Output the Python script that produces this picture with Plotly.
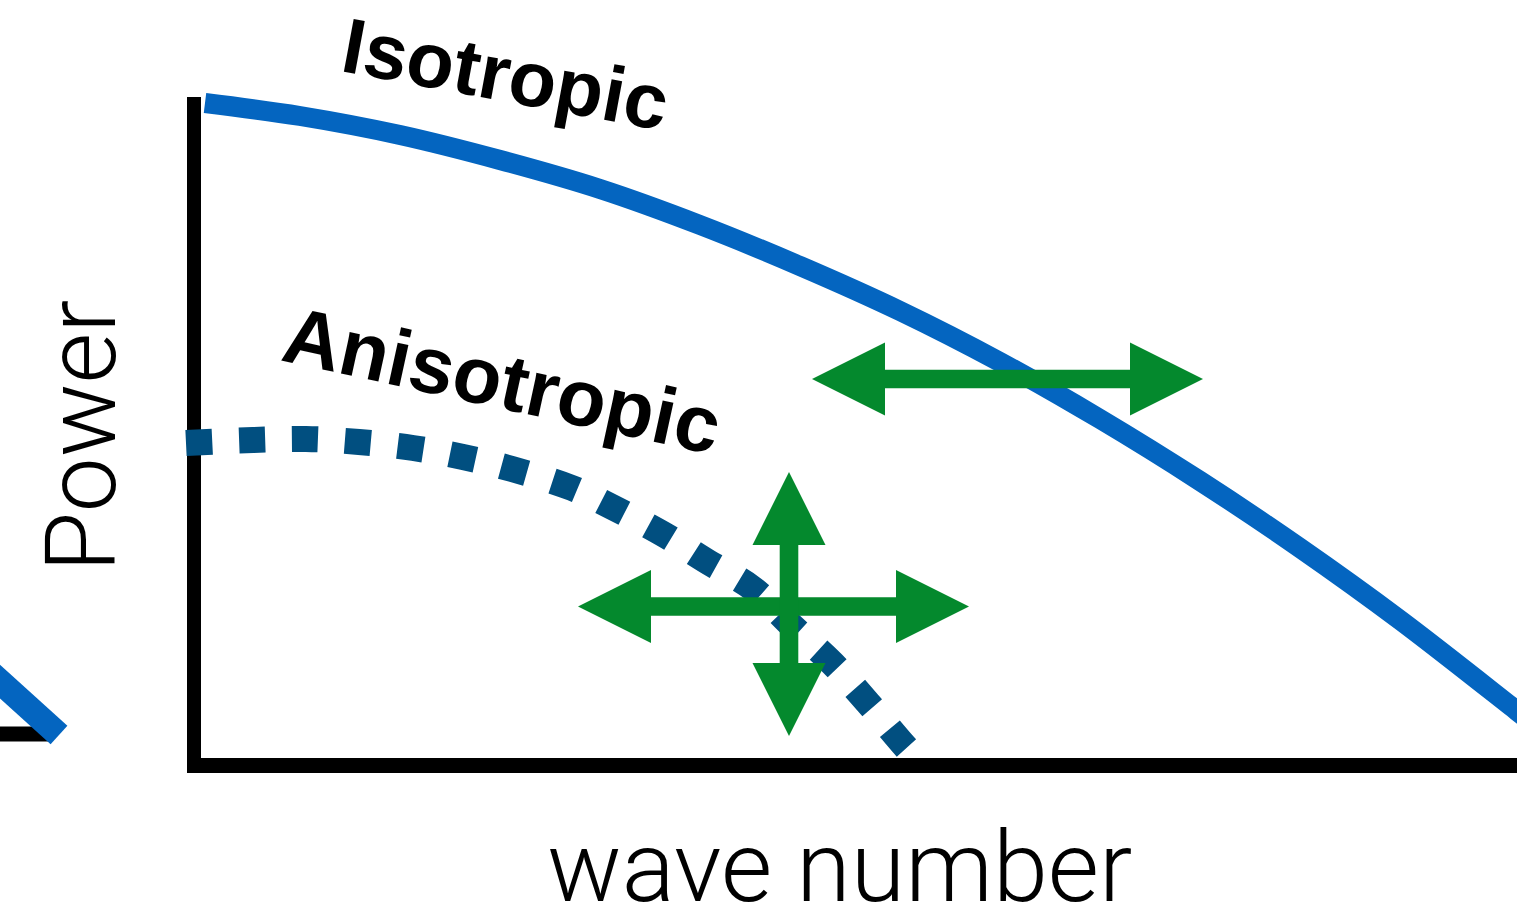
import plotly.graph_objects as go

# Coordinates: x = wave number, y = power, both with the origin at the axis corner.

# Isotropic spectrum (solid curve)
iso_k = [11, 106, 206, 306, 406, 506, 606, 706, 806, 906, 1006, 1106, 1206, 1323, 1346]
iso_p = [663, 650, 631, 606, 577, 541, 500, 455, 404, 347, 285, 218, 146, 55, 37]

# Anisotropic spectrum (dotted curve)
ani_k = [-8, 59, 112, 165, 219, 269, 318, 378, 422, 469, 514, 558, 599, 638, 674, 708, 717]
ani_p = [323, 326, 327, 324, 318, 309, 297, 278, 257, 232, 204, 178, 139, 103, 63, 23, 13]

# Axis lines
yaxis_k = [0, 0]
yaxis_p = [-7, 669]
xaxis_k = [-7, 1345]
xaxis_p = [0.5, 0.5]

# Edge of the neighbouring panel on the left
edge_bar_k = [-210, -144]
edge_bar_p = [32, 32]
edge_curve_k = [-210, -135]
edge_curve_p = [99, 31]

# Double-headed arrows: centre k, centre p, half length, orientation
arrow_ck = [813.5, 579.5, 595]
arrow_cp = [387, 159.5, 162]
arrow_half = [195.5, 195.5, 132]
arrow_dir = ["h", "h", "v"]
HEAD_LEN = 73
HEAD_HALF = 36.5
SHAFT_HALF = 9.3

BLUE = "rgb(4,101,192)"
DARK_BLUE = "rgb(1,79,128)"
GREEN = "rgb(4,137,45)"
BLACK = "#000000"

fig = go.Figure()

# neighbouring panel fragment
fig.add_trace(go.Scatter(x=edge_bar_k, y=edge_bar_p, mode="lines",
                         line=dict(color=BLACK, width=15), hoverinfo="skip"))
fig.add_trace(go.Scatter(x=edge_curve_k, y=edge_curve_p, mode="lines",
                         line=dict(color=BLUE, width=25), hoverinfo="skip"))

# axes
fig.add_trace(go.Scatter(x=yaxis_k, y=yaxis_p, mode="lines",
                         line=dict(color=BLACK, width=14), hoverinfo="skip"))
fig.add_trace(go.Scatter(x=xaxis_k, y=xaxis_p, mode="lines",
                         line=dict(color=BLACK, width=15), hoverinfo="skip"))

# spectra
fig.add_trace(go.Scatter(x=iso_k, y=iso_p, mode="lines", line_shape="spline",
                         line=dict(color=BLUE, width=20), hoverinfo="skip"))
fig.add_trace(go.Scatter(x=ani_k, y=ani_p, mode="lines", line_shape="spline",
                         line=dict(color=DARK_BLUE, width=26, dash="26px,27px"),
                         hoverinfo="skip"))


def double_arrow(ck, cp, half, direction):
    """Outline of a double-headed arrow as (along, across) offsets."""
    a = half
    b = half - HEAD_LEN
    outline = [(-a, 0), (-b, HEAD_HALF), (-b, SHAFT_HALF), (b, SHAFT_HALF),
               (b, HEAD_HALF), (a, 0), (b, -HEAD_HALF), (b, -SHAFT_HALF),
               (-b, -SHAFT_HALF), (-b, -HEAD_HALF), (-a, 0)]
    if direction == "h":
        xs = [ck + u for u, v in outline]
        ys = [cp + v for u, v in outline]
    else:
        xs = [ck + v for u, v in outline]
        ys = [cp + u for u, v in outline]
    return xs, ys


for ck, cp, half, d in zip(arrow_ck, arrow_cp, arrow_half, arrow_dir):
    xs, ys = double_arrow(ck, cp, half, d)
    fig.add_trace(go.Scatter(x=xs, y=ys, mode="lines", fill="toself",
                             fillcolor=GREEN, line=dict(width=0, color=GREEN),
                             hoverinfo="skip"))

bold = dict(family="Liberation Sans, Arial, sans-serif", size=80, color=BLACK, weight="bold")
light = dict(family="Roboto, sans-serif", size=98, color=BLACK, weight=300)

fig.add_annotation(x=311, y=692, text="Isotropic", showarrow=False,
                   textangle=10.5, font=dict(bold, size=78))
fig.add_annotation(x=308, y=386, text="Anisotropic", showarrow=False,
                   textangle=12.3, font=bold)
fig.add_annotation(x=-113, y=330, text="Power", showarrow=False,
                   textangle=-90, font=light)
fig.add_annotation(x=645, y=-101, text="wave number", showarrow=False,
                   font=dict(light, size=99))

fig.update_layout(
    width=1517, height=911,
    margin=dict(l=0, r=0, t=0, b=0),
    paper_bgcolor="white", plot_bgcolor="white",
    showlegend=False,
    xaxis=dict(range=[-194, 1323], visible=False, fixedrange=True),
    yaxis=dict(range=[-145, 766], visible=False, fixedrange=True),
)

fig.write_html("out.html", config={"displayModeBar": False})
